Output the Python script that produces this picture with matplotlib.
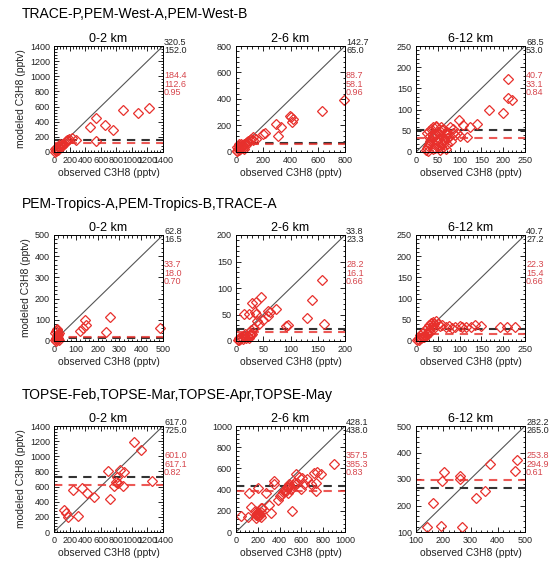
#!/usr/bin/env python3
"""Modeled vs observed C3H8 scatter panels, three campaign groups x three altitude bands."""
import matplotlib
matplotlib.use('Agg')
import matplotlib.pyplot as plt
from matplotlib.ticker import MultipleLocator, AutoMinorLocator

plt.rcParams['font.family'] = ['Liberation Sans', 'DejaVu Sans']

group_titles = ['TRACE-P,PEM-West-A,PEM-West-B',
                'PEM-Tropics-A,PEM-Tropics-B,TRACE-A',
                'TOPSE-Feb,TOPSE-Mar,TOPSE-Apr,TOPSE-May']
alt_bands = ['0-2 km', '2-6 km', '6-12 km']

# axis ranges and tick step for each panel (row, col)
ranges = [[(0, 1400, 200), (0, 800, 200), (0, 250, 50)],
          [(0, 500, 100), (0, 200, 50), (0, 250, 50)],
          [(0, 1400, 200), (0, 1000, 200), (100, 500, 100)]]

# stats printed right of each panel: observed (mean, median), model (mean, median, r)
obs_stats = [[('320.5', '152.0'), ('142.7', '65.0'), ('68.5', '53.0')],
             [('62.8', '16.5'), ('33.8', '23.3'), ('40.7', '27.2')],
             [('617.0', '725.0'), ('428.1', '438.0'), ('282.2', '265.0')]]
mod_stats = [[('184.4', '112.6', '0.95'), ('88.7', '58.1', '0.96'), ('40.7', '33.1', '0.84')],
             [('33.7', '18.0', '0.70'), ('28.2', '16.1', '0.66'), ('22.3', '15.4', '0.66')],
             [('601.0', '617.1', '0.82'), ('357.5', '385.3', '0.83'), ('253.8', '294.9', '0.61')]]

# row 1
obs_11 = [10, 20, 30, 40, 50, 60, 70, 80, 90, 100, 110, 120, 140, 150, 170, 190, 30, 50, 15, 60,
          80, 100, 120, 180, 278, 458, 544, 651, 758, 886, 1079, 1216, 544, 230]
mod_11 = [5, 15, 25, 35, 45, 55, 60, 70, 80, 90, 100, 110, 125, 140, 155, 170, 50, 20, 35, 80,
          100, 75, 95, 165, 156, 333, 444, 356, 289, 556, 520, 578, 140, 190]
obs_12 = [5, 10, 15, 20, 25, 30, 35, 40, 45, 50, 55, 60, 70, 80, 90, 100, 110, 125, 20, 30, 40, 50,
          60, 70, 10, 25, 122, 150, 195, 293, 305, 329, 402, 415, 395, 630, 790, 410, 210]
mod_12 = [5, 10, 20, 15, 30, 25, 40, 35, 50, 45, 55, 60, 65, 75, 85, 90, 95, 110, 45, 55, 60, 30,
          20, 50, 35, 60, 87, 100, 137, 211, 124, 186, 261, 248, 275, 310, 390, 230, 140]
obs_13 = [22, 25, 28, 30, 32, 35, 38, 40, 42, 45, 48, 50, 52, 55, 58, 60, 62, 65, 68, 70, 72, 75,
          78, 80, 85, 90, 25, 30, 35, 40, 45, 50, 55, 60, 65, 70, 30, 40, 50, 60, 28, 33, 38, 43,
          47, 53, 57, 63, 68, 98, 108, 123, 117, 101, 140, 168, 200, 210, 220, 212, 85, 95]
mod_13 = [5, 10, 15, 20, 25, 30, 8, 35, 18, 40, 28, 45, 12, 50, 22, 38, 55, 30, 42, 48, 20, 35,
          58, 25, 45, 40, 45, 50, 55, 60, 62, 15, 5, 10, 28, 33, 35, 42, 48, 52, 3, 20, 38, 10,
          58, 30, 60, 18, 8, 75, 63, 60, 36, 37, 67, 98, 91, 127, 123, 171, 55, 45]

# row 2
obs_21 = [5, 8, 10, 12, 15, 18, 20, 22, 10, 12, 15, 8, 18, 20, 14, 16, 6, 24,
          141, 148, 133, 118, 255, 240, 485]
mod_21 = [5, 10, 15, 20, 25, 30, 35, 40, 45, 50, 55, 2, 8, 12, 18, 28, 38, 6,
          100, 76, 59, 47, 114, 44, 63]
obs_22 = [3, 5, 8, 10, 12, 15, 18, 20, 22, 25, 28, 30, 6, 14, 17, 24, 27, 157, 139, 131, 162, 91,
          95, 73, 58, 58, 46, 37, 30, 35, 37, 38, 43, 15, 24, 28, 33, 50, 62]
mod_22 = [2, 5, 3, 7, 4, 8, 6, 10, 9, 12, 11, 14, 1, 10, 13, 5, 15, 116, 78, 43, 33, 29,
          31, 61, 57, 48, 83, 73, 72, 55, 51, 37, 32, 51, 51, 20, 25, 40, 55]
obs_23 = [3, 5, 8, 10, 12, 15, 18, 20, 22, 25, 28, 30, 32, 35, 38, 40, 42, 45, 10, 15, 20, 25, 30,
          35, 40, 50, 55, 60, 68, 75, 83, 90, 100, 106, 115, 125, 135, 148, 193, 208, 227]
mod_23 = [2, 5, 3, 8, 6, 10, 9, 14, 12, 18, 20, 25, 22, 30, 35, 28, 40, 48, 15, 18, 25, 30, 38,
          42, 45, 40, 35, 38, 34, 36, 30, 33, 35, 32, 34, 34, 38, 36, 32, 32, 34]

# row 3
obs_31 = [129, 151, 181, 302, 250, 366, 422, 517, 698, 719, 775, 797, 810, 853, 905, 827, 883,
          1025, 1120, 1258]
mod_31 = [284, 249, 197, 206, 560, 577, 512, 468, 800, 437, 612, 656, 730, 818, 787, 643, 604,
          1194, 1080, 678]
obs_32 = [46, 107, 137, 180, 190, 200, 210, 220, 230, 240, 170, 185, 205, 225, 198, 229, 305, 320,
          274, 122, 198, 351, 412, 381, 442, 473, 488, 503, 518, 549, 610, 655, 716, 747, 777,
          732, 732, 686, 625, 595, 534, 351, 899, 450, 470, 500, 430, 460, 490, 520, 480, 400,
          560, 580]
mod_32 = [151, 140, 240, 130, 170, 150, 180, 160, 192, 224, 200, 160, 175, 145, 192, 224, 256, 176,
          368, 369, 417, 449, 353, 301, 385, 417, 449, 410, 199, 545, 513, 497, 561, 567, 545,
          385, 465, 449, 449, 401, 465, 481, 641, 400, 420, 410, 380, 390, 430, 440, 370, 340,
          460, 520]
obs_33 = [142, 191, 270, 163, 197, 201, 261, 263, 322, 355, 373, 462, 470]
mod_33 = [119, 123, 119, 211, 293, 326, 310, 300, 229, 254, 356, 330, 372]

obs_data = [[obs_11, obs_12, obs_13], [obs_21, obs_22, obs_23], [obs_31, obs_32, obs_33]]
mod_data = [[mod_11, mod_12, mod_13], [mod_21, mod_22, mod_23], [mod_31, mod_32, mod_33]]

RED = '#e8302c'
TXT_RED = '#d6454c'

W, H = 555, 564
fig = plt.figure(figsize=(W / 100, H / 100), dpi=100)

lefts = [54, 236, 416]
tops = [46, 235, 426]
aw, ah = 109, 106
title_y = [14, 204, 395]

for r in range(3):
    fig.text(22 / W, 1 - title_y[r] / H, group_titles[r], fontsize=10, ha='left', va='center')
    for c in range(3):
        ax = fig.add_axes([lefts[c] / W, 1 - (tops[r] + ah) / H, aw / W, ah / H])
        lo, hi, step = ranges[r][c]
        ax.set_xlim(lo, hi)
        ax.set_ylim(lo, hi)
        ax.xaxis.set_major_locator(MultipleLocator(step))
        ax.yaxis.set_major_locator(MultipleLocator(step))
        ax.xaxis.set_minor_locator(AutoMinorLocator(5))
        ax.yaxis.set_minor_locator(AutoMinorLocator(5))
        ax.tick_params(which='both', direction='in', top=True, right=True,
                       labelsize=6.5, width=0.6, pad=3, labelcolor='#222222')
        ax.tick_params(which='major', length=3.5)
        ax.tick_params(which='minor', length=1.8)
        for s in ax.spines.values():
            s.set_linewidth(0.7)

        ax.plot([lo, hi], [lo, hi], color='#555555', lw=0.8)
        ax.axhline(float(obs_stats[r][c][1]), color='#333333', lw=1.5, dashes=(4, 3))
        ax.axhline(float(mod_stats[r][c][1]), color=RED, lw=1.5, dashes=(4, 3), alpha=0.8)
        ax.plot(obs_data[r][c], mod_data[r][c], linestyle='none', marker='D', ms=4.8,
                mfc='none', mec=RED, mew=0.9, clip_on=False)

        ax.set_title(alt_bands[c], fontsize=9, pad=3)
        ax.set_xlabel('observed C3H8 (pptv)', fontsize=7.5, labelpad=2, color='#222222')
        if c == 0:
            ax.set_ylabel('modeled C3H8 (pptv)', fontsize=7.5, labelpad=3, color='#222222')

        for i, t in enumerate(obs_stats[r][c]):
            ax.text(1.01, 1.035 - i * 0.08, t, transform=ax.transAxes,
                    fontsize=6.5, ha='left', va='center', color='#222222')
        for i, t in enumerate(mod_stats[r][c]):
            ax.text(1.01, 0.72 - i * 0.08, t, transform=ax.transAxes,
                    fontsize=6.5, ha='left', va='center', color=TXT_RED)

fig.savefig('out.png', dpi=100)
plt.close()
